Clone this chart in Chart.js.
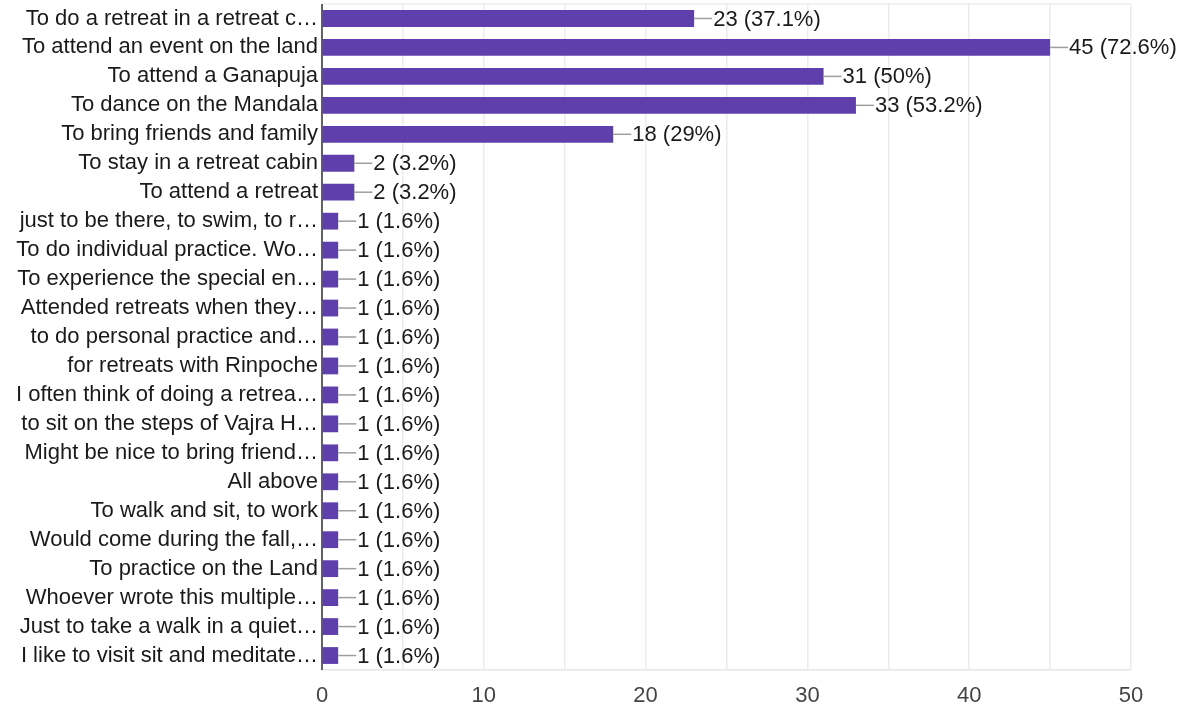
<!DOCTYPE html>
<html>
<head>
<meta charset="utf-8">
<script src="https://cdn.jsdelivr.net/npm/chart.js@4.4.1/dist/chart.umd.min.js"></script>
<style>
  html, body { margin: 0; padding: 0; background: #fff; }
  #wrap { width: 1191px; height: 707px; position: relative; }
</style>
</head>
<body>
<div id="wrap"><canvas id="answersChart"></canvas></div>
<script>
const labels = [
    'To do a retreat in a retreat c…',
    'To attend an event on the land',
    'To attend a Ganapuja',
    'To dance on the Mandala',
    'To bring friends and family',
    'To stay in a retreat cabin',
    'To attend a retreat',
    'just to be there, to swim, to r…',
    'To do individual practice. Wo…',
    'To experience the special en…',
    'Attended retreats when they…',
    'to do personal practice and…',
    'for retreats with Rinpoche',
    'I often think of doing a retrea…',
    'to sit on the steps of Vajra H…',
    'Might be nice to bring friend…',
    'All above',
    'To walk and sit, to work',
    'Would come during the fall,…',
    'To practice on the Land',
    'Whoever wrote this multiple…',
    'Just to take a walk in a quiet…',
    'I like to visit sit and meditate…'
];
const counts = [23, 45, 31, 33, 18, 2, 2, 1, 1, 1, 1, 1, 1, 1, 1, 1, 1, 1, 1, 1, 1, 1, 1];
const percents = ['37.1', '72.6', '50', '53.2', '29', '3.2', '3.2', '1.6', '1.6', '1.6', '1.6', '1.6',
    '1.6', '1.6', '1.6', '1.6', '1.6', '1.6', '1.6', '1.6', '1.6', '1.6', '1.6'];
const xTicks = [0, 10, 20, 30, 40, 50];

const FONT = 'Arial, "Liberation Sans", sans-serif';

// value labels with the little leader line, google forms style
const valueLabels = {
    id: 'valueLabels',
    afterDatasetsDraw(chart) {
        const ctx = chart.ctx;
        const meta = chart.getDatasetMeta(0);
        ctx.save();
        ctx.font = '22px ' + FONT;
        ctx.textBaseline = 'middle';
        ctx.textAlign = 'left';
        meta.data.forEach((bar, i) => {
            const x = bar.x, y = bar.y;
            ctx.strokeStyle = '#9e9e9e';
            ctx.lineWidth = 1.5;
            ctx.beginPath();
            ctx.moveTo(x, y);
            ctx.lineTo(x + 18, y);
            ctx.stroke();
            ctx.fillStyle = '#1a1a1a';
            ctx.fillText(counts[i] + ' (' + percents[i] + '%)', x + 19, y + 1);
        });
        // top border of plot
        const a = chart.chartArea;
        ctx.strokeStyle = '#ececec';
        ctx.lineWidth = 1.5;
        ctx.beginPath();
        ctx.moveTo(a.left, a.top);
        ctx.lineTo(a.right, a.top);
        ctx.stroke();
        // left axis line on top
        ctx.strokeStyle = '#333';
        ctx.lineWidth = 1.5;
        ctx.beginPath();
        ctx.moveTo(a.left, a.top);
        ctx.lineTo(a.left, a.bottom);
        ctx.stroke();
        ctx.restore();
    }
};

new Chart(document.getElementById('answersChart').getContext('2d'), {
    type: 'bar',
    data: {
        labels: labels,
        datasets: [{
            data: counts,
            backgroundColor: '#5f3fac',
            categoryPercentage: 1,
            barPercentage: 0.58
        }]
    },
    options: {
        indexAxis: 'y',
        responsive: true,
        maintainAspectRatio: false,
        animation: false,
        layout: { padding: { top: 4, right: 60, left: 0, bottom: 0 } },
        plugins: { legend: { display: false }, tooltip: { enabled: false } },
        scales: {
            x: {
                min: 0,
                max: 50,
                ticks: {
                    stepSize: 5,
                    autoSkip: false,
                    maxRotation: 0,
                    color: '#444',
                    font: { size: 22, family: FONT },
                    padding: 13,
                    callback: v => xTicks.includes(v) ? String(v) : ''
                },
                grid: { color: '#ececec', lineWidth: 1.5, drawTicks: false },
                border: { display: true, color: '#e6e6e6', width: 1.5 },
                afterFit: s => { s.height = 37; s.paddingLeft = 0; s.paddingRight = 0; }
            },
            y: {
                ticks: {
                    autoSkip: false,
                    color: '#1a1a1a',
                    font: { size: 22, family: FONT },
                    padding: 4
                },
                grid: { display: false, drawTicks: false },
                border: { display: false },
                afterFit: s => { s.width = 322; s.paddingTop = 0; s.paddingBottom = 0; }
            }
        }
    },
    plugins: [valueLabels]
});
</script>
</body>
</html>
